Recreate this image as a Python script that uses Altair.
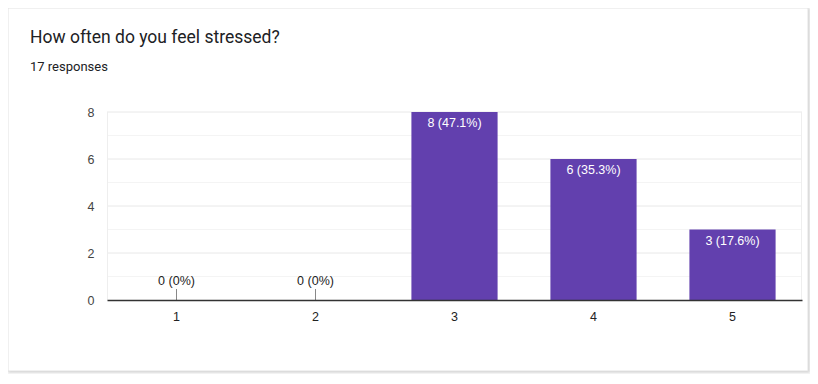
import altair as alt
import pandas as pd

categories = ["1", "2", "3", "4", "5"]
counts = [0, 0, 8, 6, 3]
labels = ["0 (0%)", "0 (0%)", "8 (47.1%)", "6 (35.3%)", "3 (17.6%)"]
grid_values = [1, 2, 3, 4, 5, 6, 7, 8]
title_text = "How often do you feel stressed?"
subtitle_text = "17 responses"

df = pd.DataFrame({"cat": categories, "count": counts, "label": labels})
grid_df = pd.DataFrame({"g": grid_values, "major": [g % 2 == 0 for g in grid_values]})
one = pd.DataFrame({"k": [0]})

W, H = 695, 188
PURPLE = "#6240ae"

x_enc = alt.X("cat:N", sort=categories, title=None,
              scale=alt.Scale(paddingInner=0.38, paddingOuter=0.19),
              axis=alt.Axis(labelAngle=0, ticks=False, labelPadding=10,
                            labelFont="Liberation Sans", labelFontSize=12.5,
                            labelColor="#222222", domainColor="#333333",
                            domainWidth=1.5, grid=False, zindex=1))
y_enc = alt.Y("count:Q", title=None,
              scale=alt.Scale(domain=[0, 8], nice=False),
              axis=alt.Axis(values=[0, 2, 4, 6, 8],
                            ticks=False, domain=False, labelPadding=13,
                            labelFont="Liberation Sans", labelFontSize=12.5,
                            labelColor="#444444", zindex=1, grid=False))

# card background with soft shadow
shadows = []
for i, op in enumerate([0.05, 0.05, 0.06]):
    d = 3 - i
    shadows.append(
        alt.Chart(one).mark_rect(fill="black", opacity=op, cornerRadius=2).encode(
            x=alt.value(-99 - d + 2), x2=alt.value(701 + d),
            y=alt.value(-104 - d + 2), y2=alt.value(259 + d)))
card = alt.Chart(one).mark_rect(fill="white", stroke="#e2e2e2", strokeWidth=1).encode(
    x=alt.value(-99), x2=alt.value(701), y=alt.value(-104), y2=alt.value(259))

grid = alt.Chart(grid_df).mark_rule(strokeWidth=1).encode(
    y=alt.Y("g:Q"),
    x=alt.value(0), x2=alt.value(W),
    color=alt.condition("datum.major", alt.value("#e8e8e8"), alt.value("#f4f4f4")))
left_edge = alt.Chart(one).mark_rule(color="#eeeeee", strokeWidth=1).encode(
    x=alt.value(0.5), y=alt.value(0), y2=alt.value(H))
right_edge = alt.Chart(one).mark_rule(color="#eeeeee", strokeWidth=1).encode(
    x=alt.value(W - 0.5), y=alt.value(0), y2=alt.value(H))

bars = alt.Chart(df).mark_bar(color=PURPLE).encode(x=x_enc, y=y_enc)

stub = alt.Chart(df).transform_filter("datum.count == 0").mark_rule(
    color="#888888", strokeWidth=1).encode(
    x=alt.X("cat:N", sort=categories), y=alt.Y("count:Q"), y2=alt.value(H - 11))

in_text = alt.Chart(df).transform_filter("datum.count > 0").mark_text(
    baseline="top", dy=5, color="white", font="Liberation Sans", fontSize=12.5).encode(
    x=alt.X("cat:N", sort=categories), y=alt.Y("count:Q"), text="label:N")

out_text = alt.Chart(df).transform_filter("datum.count == 0").mark_text(
    baseline="bottom", dy=-12, color="#222222", font="Liberation Sans", fontSize=12.5).encode(
    x=alt.X("cat:N", sort=categories), y=alt.Y("count:Q"), text="label:N")

title_mark = alt.Chart(pd.DataFrame({"t": [title_text]})).mark_text(
    align="left", baseline="alphabetic", font="Roboto", fontSize=17.5,
    color="#202124").encode(x=alt.value(-77), y=alt.value(-69), text="t:N")
subtitle_mark = alt.Chart(pd.DataFrame({"t": [subtitle_text]})).mark_text(
    align="left", baseline="alphabetic", font="Roboto", fontSize=13,
    color="#202124").encode(x=alt.value(-77), y=alt.value(-41), text="t:N")

chart = alt.layer(*shadows, card, grid, left_edge, right_edge, bars, stub,
                  in_text, out_text, title_mark, subtitle_mark).properties(
    width=W, height=H,
    autosize=alt.AutoSizeParams(type="none"),
    padding={"left": 99, "top": 104, "right": 8, "bottom": 76},
).configure_view(stroke=None).configure(background="white")

chart.save("out.html", embed_options={"renderer": "svg", "actions": False})
